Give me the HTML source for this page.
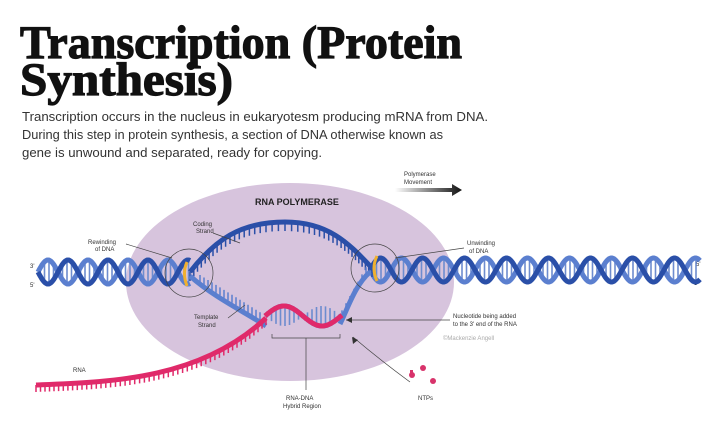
<!DOCTYPE html>
<html><head><meta charset="utf-8"><style>
html,body{margin:0;padding:0;background:#fff;width:720px;height:444px;overflow:hidden}
svg{display:block}
.t{font-family:"Liberation Serif",serif;font-weight:bold}
.s{font-family:"Liberation Sans",sans-serif}
</style></head><body>
<svg id="g" width="720" height="444" viewBox="0 0 720 444" xmlns="http://www.w3.org/2000/svg">
<text class="t" x="20" y="58" font-size="47" textLength="442" lengthAdjust="spacingAndGlyphs" fill="#111" stroke="#111" stroke-width="1.2">Transcription (Protein</text>
<text class="t" x="20" y="95" font-size="47" textLength="213" lengthAdjust="spacingAndGlyphs" fill="#111" stroke="#111" stroke-width="1.2">Synthesis)</text>
<g class="s" font-size="13.2" fill="#333">
<text x="22" y="121" textLength="466" lengthAdjust="spacingAndGlyphs">Transcription occurs in the nucleus in eukaryotesm producing mRNA from DNA.</text>
<text x="22" y="139" textLength="421" lengthAdjust="spacingAndGlyphs">During this step in protein synthesis, a section of DNA otherwise known as</text>
<text x="22" y="157" textLength="300" lengthAdjust="spacingAndGlyphs">gene is unwound and separated, ready for copying.</text>
</g>
<ellipse cx="290" cy="282" rx="164" ry="99" fill="#d7c4dd"/>
<defs><linearGradient id="ar" x1="0" x2="1"><stop offset="0" stop-color="#fff"/><stop offset="1" stop-color="#111"/></linearGradient></defs>
<path d="M395 188 H452 V184 L462 190 L452 196 V192 H395 Z" fill="url(#ar)"/>
<g class="s" font-size="6" fill="#333">
<text x="404" y="176">Polymerase</text><text x="404" y="184">Movement</text>
<text x="255" y="205" font-size="9" font-weight="bold" fill="#222">RNA POLYMERASE</text>
<text x="88" y="244">Rewinding</text><text x="95" y="251">of DNA</text>
<text x="193" y="226">Coding</text><text x="196" y="233">Strand</text>
<text x="467" y="245">Unwinding</text><text x="469" y="253">of DNA</text>
<text x="194" y="319">Template</text><text x="198" y="327">Strand</text>
<text x="453" y="318">Nucleotide being added</text><text x="453" y="326">to the 3' end of the RNA</text>
<text x="443" y="340" fill="#aaa">©Mackenzie Angell</text>
<text x="73" y="372">RNA</text>
<text x="286" y="400">RNA-DNA</text><text x="283" y="408">Hybrid Region</text>
<text x="418" y="400">NTPs</text>
<text x="30" y="268">3'</text><text x="30" y="287">5'</text>
<text x="696" y="266">5'</text><text x="694" y="285">3'</text>
</g>
<g id="dna"></g>
<g fill="none" stroke="#444" stroke-width="0.7">
<circle cx="189" cy="273" r="24"/><circle cx="375" cy="268" r="24"/>
<line x1="126" y1="244" x2="172" y2="258"/>
<line x1="213" y1="233" x2="240" y2="243"/>
<line x1="464" y1="248" x2="395" y2="258"/>
<line x1="228" y1="318" x2="245" y2="305"/>
<line x1="450" y1="320" x2="346" y2="320"/>
<path d="M272 334 V338 H340 V334 M306 338 V390"/>
<path d="M410 382 Q380 360 353 337"/>
</g>
<path d="M346 320 l6 -3 v6z M352 337 l1 7 l5 -4z" fill="#333"/>
<g fill="#d8336b"><circle cx="412" cy="375" r="3"/><circle cx="423" cy="368" r="3"/><circle cx="433" cy="381" r="3"/><rect x="410" y="370" width="3" height="6"/></g>
</svg>
<script>
var g=document.getElementById('dna'),NS='http://www.w3.org/2000/svg';
function P(d,c,w){var p=document.createElementNS(NS,'path');p.setAttribute('d',d);p.setAttribute('stroke',c);p.setAttribute('stroke-width',w);p.setAttribute('fill','none');g.appendChild(p);}
function helix(x0,x1,cy,A,per,ph,skipA){var a='',b='',r='';for(var x=x0;x<=x1;x+=1){var t=(x-x0)/per*2*Math.PI+ph;var y1=cy+A*Math.sin(t),y2=cy-A*Math.sin(t);a+=(x==x0?'M':'L')+x+' '+y1.toFixed(1);b+=(x==x0?'M':'L')+x+' '+y2.toFixed(1);}
for(var x=x0+2;x<x1;x+=4.5){var t=(x-x0)/per*2*Math.PI+ph;var y1=cy+A*Math.sin(t),y2=cy-A*Math.sin(t);r+='M'+x+' '+y1.toFixed(1)+'V'+y2.toFixed(1);}
P(r,'#6d8ccf',1.6);P(b,'#5b7fcf',5);if(!skipA)P(a,'#2a4fa8',5);}
helix(38,190,272,12,40,0);
helix(370,700,270,12,42,Math.PI);
P('M190 272 C215 240 240 222 285 222 C330 222 350 245 372 268','#2a4fa8',5);
function bz(p0,p1,p2,p3,t){return (1-t)**3*p0+3*(1-t)**2*t*p1+3*(1-t)*t*t*p2+t**3*p3;}
var tk='';for(var i=0;i<=40;i+=2){var t=i/40;tk+='M'+bz(190,215,240,285,t).toFixed(1)+' '+bz(272,240,222,222,t).toFixed(1)+'v9';tk+='M'+bz(285,330,350,372,t).toFixed(1)+' '+bz(222,222,245,268,t).toFixed(1)+'v9';}
P(tk,'#2a4fa8',1.5);
P('M190 276 C215 298 245 312 266 326','#5b7fcf',5);
P('M340 324 C348 308 355 285 370 272','#5b7fcf',5);
var tk2='';for(var x=200;x<262;x+=4){var y=283+(x-200)*0.62;tk2+='M'+x+' '+y.toFixed(1)+'v-8';}for(var x=342;x<368;x+=4){tk2+='M'+x+' '+(322-(x-340)*1.8).toFixed(1)+'v-8';}
P(tk2,'#5b7fcf',1.5);
helix(265,342,316,10,76,0,true);
var s='';for(var x=265;x<=342;x++){s+=(x==265?'M':'L')+x+' '+(316-10*Math.sin((x-265)/76*2*Math.PI)).toFixed(1);}
P(s,'#e02a6a',5);
P('M36 385 C110 382 200 380 266 318','#e02a6a',5);
var rt='';for(var i=0;i<=50;i++){var t=i/50;rt+='M'+bz(36,110,200,266,t).toFixed(1)+' '+bz(385,382,380,318,t).toFixed(1)+'v7';}
P(rt,'#e02a6a',1.5);
P('M187 262 Q182 273 187 286','#f0b030',3);P('M377 256 Q371 268 377 281','#f0b030',3);
</script>
</body></html>
